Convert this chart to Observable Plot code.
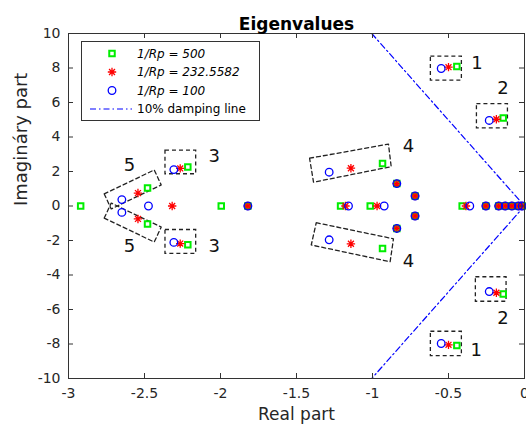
<!DOCTYPE html>
<html>
<head>
<meta charset="utf-8">
<script src="https://cdn.jsdelivr.net/npm/d3@7"></script>
<script src="https://cdn.jsdelivr.net/npm/@observablehq/plot@0.6"></script>
<style>
  body { margin: 0; background: #fff; }
  #chart { width: 526px; height: 434px; overflow: hidden; }
</style>
</head>
<body>
<div id="chart"></div>
<script>
// Eigenvalues (real, imaginary) for three values of 1/Rp
const rp500Re = [-0.445, -0.445, -0.14, -0.14, -2.215, -2.215, -0.934, -0.934, -2.48, -2.48, -2.92, -1.995, -1.82, -1.21, -1.015, -0.84, -0.84, -0.72, -0.72, -0.41, -0.254, -0.17, -0.127, -0.083, -0.04, -0.015];
const rp500Im = [8.08, -8.08, 5.1, -5.1, 2.26, -2.24, 2.47, -2.47, 1.05, -1.05, 0, 0, 0, 0, 0, 1.3, -1.3, 0.58, -0.58, 0, 0, 0, 0, 0, 0, 0];

const rp232Re = [-0.5, -0.5, -0.185, -0.185, -2.265, -2.265, -1.142, -1.142, -2.543, -2.543, -2.318, -1.82, -1.178, -0.97, -0.84, -0.84, -0.72, -0.72, -0.385, -0.254, -0.17, -0.127, -0.083, -0.04, -0.015];
const rp232Im = [8.05, -8.05, 5.03, -5.03, 2.18, -2.18, 2.19, -2.19, 0.75, -0.75, 0, 0, 0, 0, 1.3, -1.3, 0.58, -0.58, 0, 0, 0, 0, 0, 0, 0];

const rp100Re = [-0.548, -0.548, -0.232, -0.232, -2.307, -2.307, -1.285, -1.285, -2.649, -2.649, -2.474, -1.82, -1.158, -0.923, -0.84, -0.84, -0.72, -0.72, -0.36, -0.254, -0.17, -0.127, -0.083, -0.04, -0.015];
const rp100Im = [7.97, -7.97, 4.96, -4.96, 2.11, -2.11, 1.96, -1.96, 0.37, -0.37, 0, 0, 0, 0, 1.3, -1.3, 0.58, -0.58, 0, 0, 0, 0, 0, 0, 0];

// 10% damping line (zeta = 0.1): Im = ±9.95·|Re|
const dampRe = [-1.005, 0, -1.005];
const dampIm = [10, 0, -10];

// Mode groups: axis-aligned boxes [x1, x2, y1, y2]
const modeBoxes = [
  [-0.616, -0.412, 7.27, 8.66],
  [-0.616, -0.412, -8.70, -7.29],
  [-0.313, -0.109, 4.50, 5.91],
  [-0.320, -0.118, -5.55, -4.13],
  [-2.362, -2.160, 1.84, 3.21],
  [-2.362, -2.160, -2.78, -1.39]
];
// Mode groups: tilted boxes, corner lists [[re, im], ...]
const tiltedBoxes = [
  [[-1.414, 2.77], [-0.895, 3.59], [-0.877, 2.28], [-1.388, 1.38]],
  [[-1.370, -0.97], [-0.862, -1.90], [-0.884, -3.23], [-1.403, -2.26]],
  [[-2.765, 0.70], [-2.436, 2.09], [-2.390, 1.22], [-2.719, -0.17]],
  [[-2.765, -0.70], [-2.436, -2.09], [-2.390, -1.22], [-2.719, 0.17]]
];
// Mode numbers
const modeLabels = ["1", "1", "2", "2", "3", "3", "4", "4", "5", "5"];
const modeLabelRe = [-0.313, -0.318, -0.142, -0.142, -2.041, -2.041, -0.763, -0.763, -2.599, -2.599];
const modeLabelIm = [8.27, -8.35, 6.82, -6.51, 2.86, -2.32, 3.44, -3.23, 2.38, -2.32];

const xTicks = [-3, -2.5, -2, -1.5, -1, -0.5, 0];
const yTicks = [-10, -8, -6, -4, -2, 0, 2, 4, 6, 8, 10];
const legendLabels = ["1/Rp = 500", "1/Rp = 232.5582", "1/Rp = 100", "10% damping line"];

const GREEN = "#00ee00", RED = "#ff0000", BLUE = "#0000ff", AXIS = "#333333";

// MATLAB-style '*' marker: plus and cross combined
const asterisk = {
  draw(ctx, size) {
    const r = Math.sqrt(size / Math.PI), d = r * Math.SQRT1_2;
    ctx.moveTo(-r, 0); ctx.lineTo(r, 0);
    ctx.moveTo(0, -r); ctx.lineTo(0, r);
    ctx.moveTo(-d, -d); ctx.lineTo(d, d);
    ctx.moveTo(-d, d); ctx.lineTo(d, -d);
  }
};

const W = 526, H = 434;
const mT = 33, mR = 2, mB = 56, mL = 68;
const plotW = W - mL - mR, plotH = H - mT - mB;
const idx = a => a.map((_, i) => i);

const boxLines = tiltedBoxes.flatMap((b, k) =>
  [...b, b[0]].map(([re, im]) => ({k, re, im})));

const chart = Plot.plot({
  width: W, height: H,
  marginTop: mT, marginRight: mR, marginBottom: mB, marginLeft: mL,
  style: {fontFamily: "DejaVu Sans", fontSize: "14px", color: "#262626", background: "white", overflow: "hidden"},
  x: {domain: [-3, 0]},
  y: {domain: [-10, 10]},
  marks: [
    Plot.line(idx(dampRe), {x: i => dampRe[i], y: i => dampIm[i], stroke: BLUE, strokeWidth: 1.2, strokeDasharray: "6,3,1.5,3", clip: true}),
    Plot.rect(modeBoxes, {x1: d => d[0], x2: d => d[1], y1: d => d[2], y2: d => d[3], fill: "none", stroke: "#222", strokeWidth: 1.3, strokeDasharray: "4,3"}),
    Plot.line(boxLines, {x: "re", y: "im", z: "k", stroke: "#222", strokeWidth: 1.3, strokeDasharray: "4,3"}),
    Plot.dot(idx(rp500Re), {x: i => rp500Re[i], y: i => rp500Im[i], symbol: "square2", r: 3.5, stroke: GREEN, strokeWidth: 2, fill: "none"}),
    Plot.dot(idx(rp232Re), {x: i => rp232Re[i], y: i => rp232Im[i], symbol: asterisk, r: 4.2, stroke: RED, strokeWidth: 1.3, fill: "none"}),
    Plot.dot(idx(rp100Re), {x: i => rp100Re[i], y: i => rp100Im[i], symbol: "circle", r: 3.8, stroke: BLUE, strokeWidth: 1.3, fill: "none"}),
    Plot.text(idx(modeLabels), {x: i => modeLabelRe[i], y: i => modeLabelIm[i], text: i => modeLabels[i], fontSize: 18, fill: "#111"}),
    Plot.frame({stroke: AXIS, strokeWidth: 1}),
    // inward ticks on all four sides
    Plot.tickX(xTicks, {x: d => d, insetTop: plotH - 5, stroke: AXIS}),
    Plot.tickX(xTicks, {x: d => d, insetBottom: plotH - 5, stroke: AXIS}),
    Plot.tickY(yTicks, {y: d => d, insetRight: plotW - 5, stroke: AXIS}),
    Plot.tickY(yTicks, {y: d => d, insetLeft: plotW - 5, stroke: AXIS}),
    Plot.axisX({ticks: xTicks, tickFormat: d => String(d), tickSize: 0, tickPadding: 10, label: null}),
    Plot.axisY({ticks: yTicks, tickFormat: d => String(d), tickSize: 0, tickPadding: 8, label: null}),
    Plot.text(["Eigenvalues"], {frameAnchor: "top", dy: -16, fontWeight: "bold", fontSize: 17, fill: "#000"}),
    Plot.text(["Real part"], {frameAnchor: "bottom", dy: 41, fontSize: 17, fill: "#262626"}),
    Plot.text(["Imagináry part"], {frameAnchor: "left", dx: -47, rotate: -90, fontSize: 18, fill: "#262626"})
  ]
});

// Legend box in the upper-left corner of the axes
const svg = d3.select(chart);
const lg = svg.append("g").attr("font-family", "DejaVu Sans").attr("font-size", 12)
  .attr("fill", "#000").attr("text-anchor", "start");
lg.append("rect").attr("x", 81.5).attr("y", 41.5).attr("width", 178).attr("height", 79)
  .attr("fill", "white").attr("stroke", AXIS);
const rowY = [53.5, 72, 90.5, 109];
const symSpecs = [
  {type: d3.symbolSquare2, r: 3.5, stroke: GREEN, w: 2},
  {type: asterisk, r: 4.2, stroke: RED, w: 1.3},
  {type: d3.symbolCircle, r: 3.8, stroke: BLUE, w: 1.3}
];
symSpecs.forEach((s, i) => {
  lg.append("path")
    .attr("d", d3.symbol(s.type, Math.PI * s.r * s.r)())
    .attr("transform", `translate(112,${rowY[i]})`)
    .attr("fill", "none").attr("stroke", s.stroke).attr("stroke-width", s.w);
});
lg.append("line").attr("x1", 90).attr("x2", 132).attr("y1", rowY[3]).attr("y2", rowY[3])
  .attr("stroke", BLUE).attr("stroke-width", 1.2).attr("stroke-dasharray", "6,3,1.5,3");
legendLabels.forEach((t, i) => {
  lg.append("text").attr("x", 137).attr("y", rowY[i]).attr("dy", "0.35em")
    .attr("text-anchor", "start")
    .attr("font-style", i < 3 ? "italic" : "normal").text(t);
});

document.getElementById("chart").appendChild(chart);
</script>
</body>
</html>
